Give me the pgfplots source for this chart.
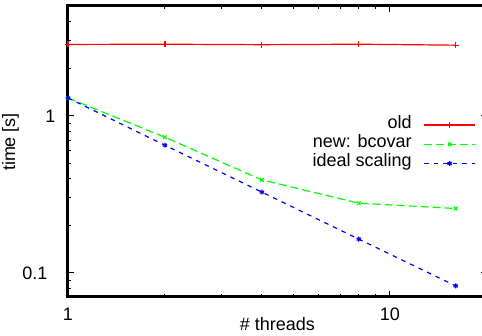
\documentclass[border=0pt]{standalone}
\usepackage{fontspec}
\setmainfont{Liberation Sans}
\usepackage{pgfplots}
\pgfplotsset{compat=1.18}
\begin{document}
\begin{tikzpicture}
\begin{loglogaxis}[
  at={(68pt,-296.5pt)}, anchor=south west,
  scale only axis, width=418.9pt, height=290.65pt,
  xmin=1, xmax=20, ymin=0.0707, ymax=5.02,
  xtick={1,10}, xticklabels={1,10},
  minor xtick={2,3,4,5,6,7,8,9,20},
  ytick={0.1,1}, yticklabels={0.1\hspace*{8pt},1},
  minor ytick={0.08,0.09,0.2,0.3,0.4,0.5,0.6,0.7,0.8,0.9,2,3,4,5},
  tick align=inside,
  major tick length=6pt, minor tick length=3pt,
  tick style={black, line width=1pt},
  axis line style={line width=3pt},
  font=\fontsize{18}{20}\selectfont,
  xticklabel style={yshift=-8pt},
  yticklabel style={xshift=-9pt},
  xlabel={\# threads},
  ylabel={time [s]},
  xlabel style={at={(axis description cs:0.5,0)}, anchor=north, yshift=-17pt},
  ylabel style={at={(axis description cs:-0.1241,0.5316)}, anchor=base, yshift=1pt},
  legend plot pos=right,
  legend cell align=right,
  legend style={at={(axis description cs:0.974,0.5237)}, anchor=east, draw=none, fill=none,
    inner sep=0pt, row sep=0pt, column sep=12pt,
    nodes={inner sep=0pt, text height=13pt, text depth=6.2pt}},
  legend image code/.code={\draw[mark repeat=2,mark phase=2] plot coordinates {(0pt,0pt) (25.5pt,0pt) (51pt,0pt)};},
]
\addplot[color=red, line width=1.2pt, mark=+, mark size=3pt]
  coordinates {(1,2.85)(2,2.86)(4,2.84)(8,2.86)(16,2.82)};
\addlegendentry{old}
\addplot[color=green, line width=1.2pt, dash pattern=on 8pt off 4pt, mark=x, mark size=2.5pt, mark options={solid}]
  coordinates {(1,1.30)(2,0.731)(4,0.391)(8,0.278)(16,0.257)};
\addlegendentry{new: bcovar}
\addplot[color=blue, line width=1.2pt, dash pattern=on 4.5pt off 5pt, mark=asterisk, mark size=2.5pt, mark options={solid}]
  coordinates {(1,1.30)(2,0.650)(4,0.327)(8,0.164)(16,0.0826)};
\addlegendentry{ideal scaling}
\end{loglogaxis}
\pgfresetboundingbox
\path[use as bounding box] (0pt,0pt) rectangle (482pt,-336pt);
\end{tikzpicture}
\end{document}
